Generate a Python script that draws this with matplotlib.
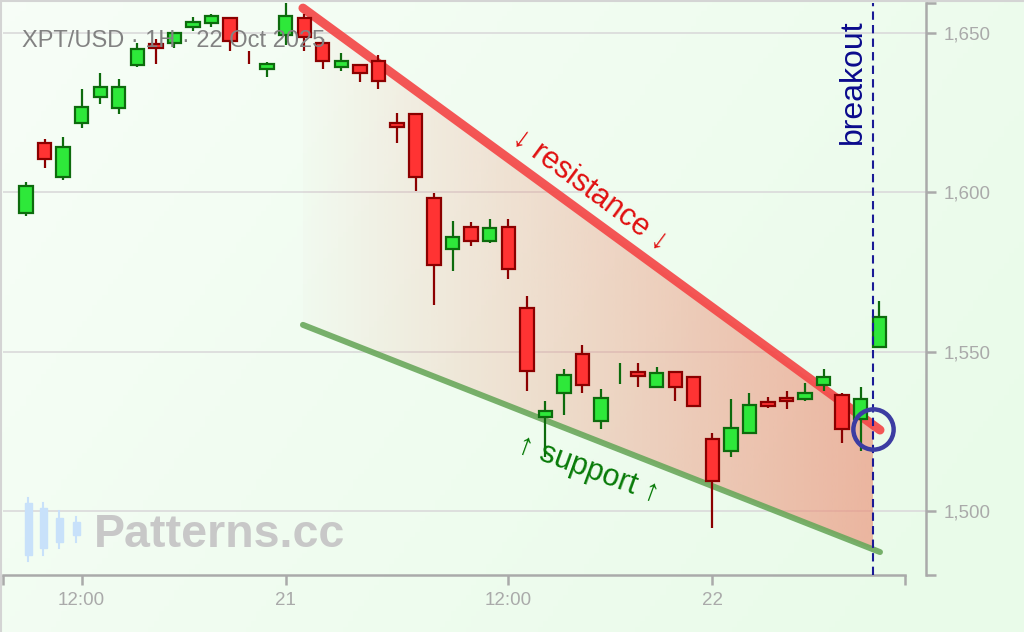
import numpy as np
import matplotlib.pyplot as plt
from matplotlib.patches import Rectangle, Polygon, FancyBboxPatch
from matplotlib.lines import Line2D

plt.rcParams['font.family'] = ['Liberation Sans', 'DejaVu Sans']

# hourly candles, XPT/USD
opens = [1593.5, 1615.6, 1604.7, 1621.6, 1629.9, 1626.6, 1639.8, 1646.5, 1646.8, 1651.8,
         1653.0, 1654.6, 1642.8, 1638.7, 1649.4, 1654.6, 1647.0, 1639.3, 1640.1, 1641.3,
         1621.8, 1624.5, 1598.1, 1582.2, 1589.2, 1584.7, 1589.2, 1563.6, 1529.4, 1536.9,
         1549.2, 1528.2, 1543.0, 1543.7, 1538.8, 1543.5, 1542.1, 1522.7, 1518.7, 1524.4,
         1534.1, 1535.4, 1535.1, 1539.5, 1536.5, 1528.9, 1551.4]
highs = [1603.2, 1616.7, 1617.4, 1632.3, 1637.3, 1635.5, 1646.8, 1648.0, 1650.3, 1654.9,
         1656.1, 1654.9, 1644.4, 1641.0, 1659.3, 1656.1, 1648.0, 1643.6, 1640.1, 1643.0,
         1624.8, 1624.8, 1599.7, 1591.0, 1590.8, 1591.6, 1591.6, 1567.6, 1534.5, 1544.6,
         1552.1, 1538.3, 1546.5, 1546.5, 1545.1, 1543.9, 1542.1, 1524.4, 1535.1, 1536.9,
         1535.7, 1537.7, 1540.1, 1544.5, 1536.9, 1538.8, 1565.9]
lows = [1592.6, 1607.5, 1603.8, 1620.1, 1627.6, 1624.5, 1639.4, 1640.2, 1645.2, 1650.7,
        1651.9, 1644.4, 1640.2, 1636.3, 1646.2, 1644.4, 1638.8, 1638.2, 1634.5, 1632.4,
        1615.6, 1600.5, 1564.6, 1575.4, 1583.0, 1584.2, 1572.8, 1537.7, 1517.0, 1530.1,
        1537.1, 1525.7, 1539.8, 1539.0, 1538.8, 1534.6, 1532.7, 1494.6, 1517.0, 1524.4,
        1532.2, 1532.1, 1534.6, 1537.7, 1521.4, 1518.9, 1551.0]
closes = [1602.0, 1610.4, 1614.3, 1626.9, 1633.1, 1633.1, 1645.1, 1645.4, 1650.1, 1653.3,
          1655.3, 1647.4, 1642.7, 1640.2, 1655.3, 1648.6, 1641.1, 1641.3, 1637.4, 1634.9,
          1620.4, 1604.7, 1577.2, 1586.1, 1584.7, 1588.7, 1575.9, 1543.9, 1531.4, 1542.8,
          1539.5, 1535.4, 1543.1, 1542.5, 1543.4, 1538.8, 1533.0, 1509.3, 1525.9, 1533.4,
          1532.9, 1534.4, 1537.0, 1542.1, 1525.7, 1535.2, 1561.0]

tick_pos = [3, 14, 26, 37]
tick_labels = ['12:00', '21', '12:00', '22']
price_ticks = [1500, 1550, 1600, 1650]

res_x = [14.93, 46.04]
res_y = [1657.8, 1525.4]
sup_x = [14.93, 46.04]
sup_y = [1558.4, 1487.1]
breakout_x = 45.66
circle_y = 1525.7

xlim = (-1.24, 48.52)
ylim = (1479.9, 1659.4)

W, H = 1024, 632
fig = plt.figure(figsize=(W / 100, H / 100), dpi=100)


def fx(x):
    return x / W


def fy(y):
    return 1 - y / H


# background gradient
bg = fig.add_axes([0, 0, 1, 1], zorder=-10)
gx = np.linspace(0, 1, 200)
gy = np.linspace(0, 1, 120)
GX, GY = np.meshgrid(gx, gy)
t = np.clip(0.25 + 0.55 * GX + 0.25 * GY, 0, 1)
top = np.array([252, 255, 252]) / 255
bot = np.array([233, 251, 233]) / 255
img = top[None, None, :] * (1 - t[..., None]) + bot[None, None, :] * t[..., None]
bg.imshow(img, aspect='auto', extent=[0, 1, 0, 1], origin='upper')
bg.axis('off')
fig.add_artist(Line2D([0, 1], [fy(1), fy(1)], transform=fig.transFigure, color='#d4d4d4', lw=1.5))
fig.add_artist(Line2D([fx(1), fx(1)], [0, 1], transform=fig.transFigure, color='#d4d4d4', lw=1.5))

ax = fig.add_axes([fx(3), fy(575), fx(923), 572 / H])
ax.set_facecolor('none')
ax.set_xlim(*xlim)
ax.set_ylim(*ylim)

for p in price_ticks:
    ax.axhline(p, color='#dcdcdc', lw=1.3, zorder=0)

# title and watermark
fig.text(fx(22), fy(41), 'XPT/USD · 1H · 22 Oct 2025', fontsize=17, color='#828282',
         ha='left', va='center', zorder=1)
fig.text(fx(94), fy(535), 'Patterns.cc', fontsize=33.5, fontweight='bold', color='#c8c8c8',
         ha='left', va='center', zorder=1)
logo = [(28, 498, 561, 503, 555), (43, 503, 555, 508, 548), (59, 511, 548, 518, 542), (76, 517, 542, 522, 535)]
for cx, wt, wb, bt, bb in logo:
    fig.add_artist(Line2D([fx(cx), fx(cx)], [fy(wt), fy(wb)], transform=fig.transFigure,
                          color='#c8e1fa', lw=1.5))
    fig.add_artist(Rectangle((fx(cx - 3.5), fy(bb)), fx(7), fy(bt) - fy(bb),
                             transform=fig.transFigure, color='#c8e1fa'))

# gradient fill between the trend lines
x0 = res_x[0]
poly = [(x0, np.interp(x0, res_x, res_y)),
        (breakout_x, np.interp(breakout_x, res_x, res_y)),
        (breakout_x, np.interp(breakout_x, sup_x, sup_y)),
        (x0, np.interp(x0, sup_x, sup_y))]
clip = Polygon(poly, closed=True, facecolor='none', edgecolor='none')
ax.add_patch(clip)
grad = np.zeros((1, 256, 4))
grad[..., 0] = 236 / 255
grad[..., 1] = 135 / 255
grad[..., 2] = 110 / 255
grad[..., 3] = np.linspace(0.02, 0.6, 256)
im = ax.imshow(grad, aspect='auto', extent=[x0, breakout_x, ylim[0], ylim[1]],
               origin='lower', zorder=1, interpolation='bilinear')
im.set_clip_path(clip)
ax.set_xlim(*xlim)
ax.set_ylim(*ylim)

ax.plot(res_x, res_y, color='#f44848', lw=6.5, alpha=0.92, solid_capstyle='round', zorder=2)
ax.plot(sup_x, sup_y, color='#6aa85c', lw=4.3, alpha=0.9, solid_capstyle='round', zorder=2)

# candles
for i, (o, h, l, c) in enumerate(zip(opens, highs, lows, closes)):
    up = c >= o
    edge = '#0d6b0d' if up else '#8b0000'
    face = '#2ee83a' if up else '#ff3333'
    ax.plot([i, i], [l, h], color=edge, lw=1.6, zorder=4, solid_capstyle='butt')
    if abs(c - o) > 0.2:
        ax.add_patch(Rectangle((i - 0.36, min(o, c)), 0.72, abs(c - o), facecolor=face,
                               edgecolor=edge, lw=1.6, zorder=5))

# breakout marker
ax.axvline(breakout_x, color='#1a1a96', lw=1.5, linestyle=(0, (4, 2.5)), zorder=6)
ax.plot([breakout_x], [circle_y], marker='o', ms=29, mfc='none', mec='#3c3ca2', mew=3.2, zorder=7)

ax.text(30.4, 1600.7, '↓ resistance ↓', color='#e01010', fontsize=22, rotation=-36.4,
        ha='center', va='center', rotation_mode='anchor', zorder=6)
ax.text(30.3, 1512.9, '↑ support ↑', color='#087a08', fontsize=22, rotation=-20,
        ha='center', va='center', rotation_mode='anchor', zorder=6)
ax.text(44.58, 1634.6, 'breakout', color='#0a0a8c', fontsize=23, rotation=90,
        ha='center', va='center', zorder=6)

# axes styling
for s in ['top', 'left']:
    ax.spines[s].set_visible(False)
ax.spines['bottom'].set_bounds(xlim[0], 47.39)
ax.spines['bottom'].set_color('#aaaaaa')
ax.spines['bottom'].set_linewidth(1.8)
ax.spines['right'].set_color('#aaaaaa')
ax.spines['right'].set_linewidth(1.8)

ax.set_xticks(tick_pos)
ax.set_xticklabels(tick_labels)
ax.set_xticks([xlim[0], 47.39], minor=True)
ax.yaxis.tick_right()
ax.set_yticks(price_ticks)
ax.set_yticklabels([f'{p:,}' for p in price_ticks])
ax.set_yticks(list(ylim), minor=True)
ax.tick_params(which='both', direction='out', length=7, width=1.8, color='#aaaaaa',
               labelcolor='#aaaaaa', labelsize=13.5)
ax.tick_params(axis='x', which='both', pad=5)
ax.tick_params(axis='y', which='both', pad=6)

fig.savefig('out.png', dpi=100)
